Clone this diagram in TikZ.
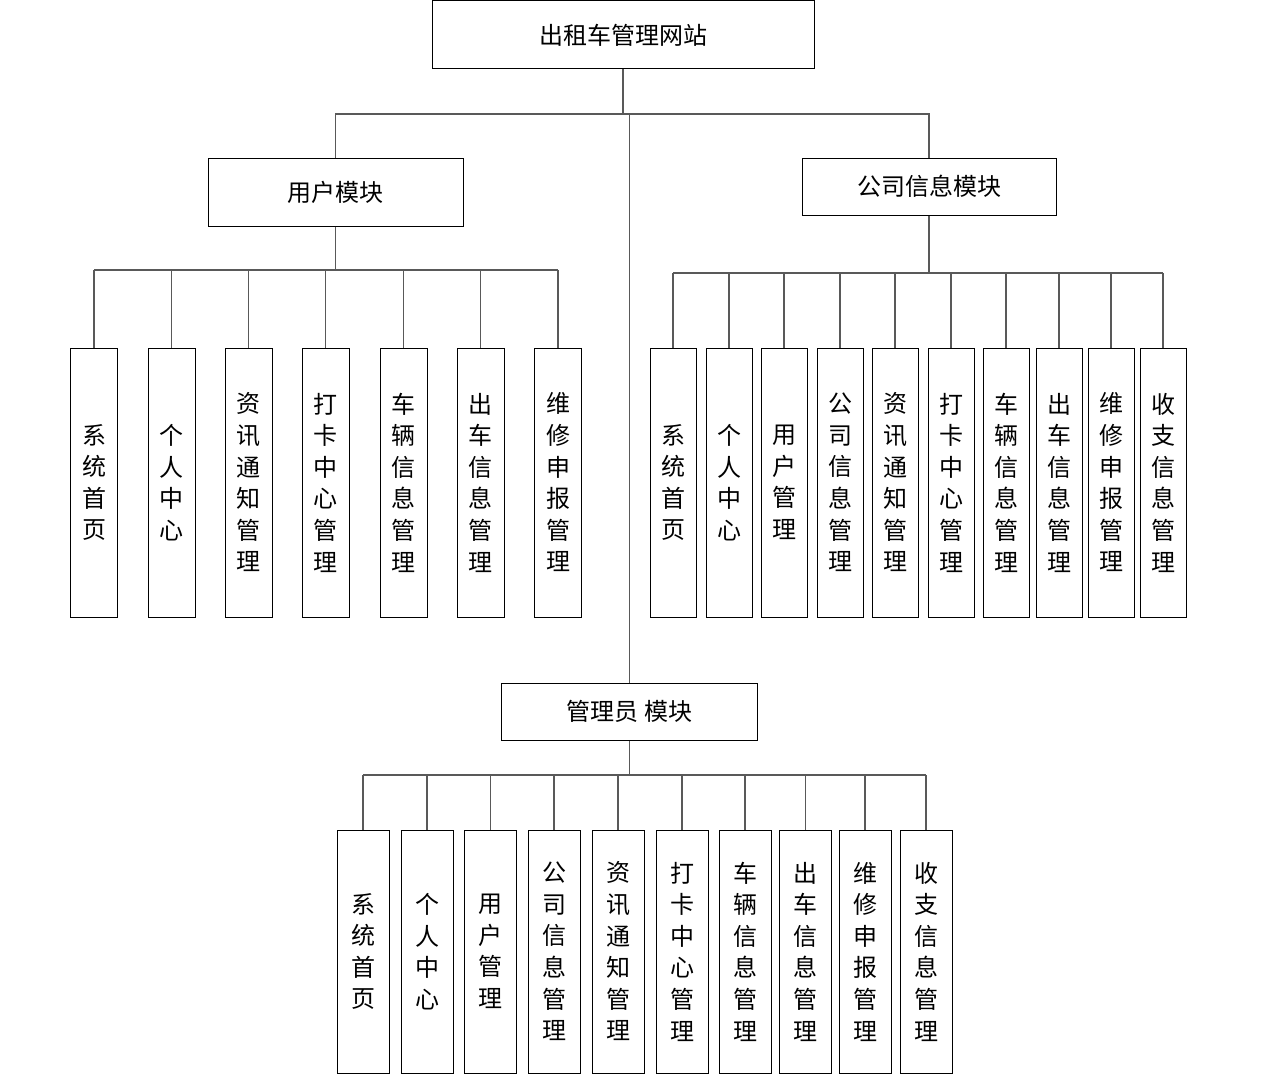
\documentclass[tikz,border=0pt]{standalone}
\usepackage{fontspec}
\newfontfamily\cjk{Noto Sans CJK SC}
\usetikzlibrary{positioning}

\begin{document}
\begin{tikzpicture}
    [x=1pt,y=-1pt,line width=1.1pt,draw=black!65,
     every node/.style={draw=black, line width=1pt, inner sep=0pt, align=center, font=\fontsize{24}{31.6}\selectfont\cjk},
     leaf/.style={minimum width=47pt, minimum height=269pt},
     aleaf/.style={minimum width=52pt, minimum height=243pt}]
  \useasboundingbox (0,0) rectangle (1264,1081);

  \node[minimum width=382pt, minimum height=68pt] (root) at (623,35) {出租车管理网站};
  \node[minimum width=255pt, minimum height=68pt] (user) at (335.5,192) {用户模块};
  \node[minimum width=254pt, minimum height=57pt] (company) at (929,186.5) {公司信息模块};
  \node[minimum width=256pt, minimum height=57pt] (admin) at (629.5,711.5) {管理员 模块};

  \foreach \x/\txt [count=\i] in {94/{系\\统\\首\\页}, 171.5/{个\\人\\中\\心}, 248.5/{资\\讯\\通\\知\\管\\理},
      325.5/{打\\卡\\中\\心\\管\\理}, 403.5/{车\\辆\\信\\息\\管\\理}, 480.5/{出\\车\\信\\息\\管\\理}, 558/{维\\修\\申\\报\\管\\理}}
    \node[leaf] (u\i) at (\x,482.5) {\txt};

  \foreach \x/\txt [count=\i] in {673/{系\\统\\首\\页}, 729/{个\\人\\中\\心}, 784/{用\\户\\管\\理}, 840/{公\\司\\信\\息\\管\\理},
      895/{资\\讯\\通\\知\\管\\理}, 951/{打\\卡\\中\\心\\管\\理}, 1006/{车\\辆\\信\\息\\管\\理}, 1059/{出\\车\\信\\息\\管\\理},
      1111/{维\\修\\申\\报\\管\\理}, 1163/{收\\支\\信\\息\\管\\理}}
    \node[leaf, minimum width=46pt] (c\i) at (\x,482.5) {\txt};

  \foreach \x/\txt [count=\i] in {363/{系\\统\\首\\页}, 427/{个\\人\\中\\心}, 490.5/{用\\户\\管\\理}, 554/{公\\司\\信\\息\\管\\理},
      618/{资\\讯\\通\\知\\管\\理}, 682/{打\\卡\\中\\心\\管\\理}, 745/{车\\辆\\信\\息\\管\\理}, 805.5/{出\\车\\信\\息\\管\\理},
      865/{维\\修\\申\\报\\管\\理}, 926/{收\\支\\信\\息\\管\\理}}
    \node[aleaf] (a\i) at (\x,951.5) {\txt};

  % top level
  \coordinate (top) at (623,114);
  \draw (root.south) -- (top);
  \draw (user.north) |- (top) -| (company.north);
  \draw (top -| admin.north) -- (admin.north);

  % buses
  \coordinate (ubus) at (0,270);
  \coordinate (cbus) at (0,273);
  \coordinate (abus) at (0,775);
  \draw (user.south) -- (user.south |- ubus);
  \draw (u1.north |- ubus) -- (u7.north |- ubus);
  \foreach \i in {1,...,7}
    \draw (u\i.north) -- (u\i.north |- ubus);
  \draw (company.south) -- (company.south |- cbus);
  \draw (c1.north |- cbus) -- (c10.north |- cbus);
  \foreach \i in {1,...,10}
    \draw (c\i.north) -- (c\i.north |- cbus);
  \draw (admin.south) -- (admin.south |- abus);
  \draw (a1.north |- abus) -- (a10.north |- abus);
  \foreach \i in {1,...,10}
    \draw (a\i.north) -- (a\i.north |- abus);
\end{tikzpicture}
\end{document}
